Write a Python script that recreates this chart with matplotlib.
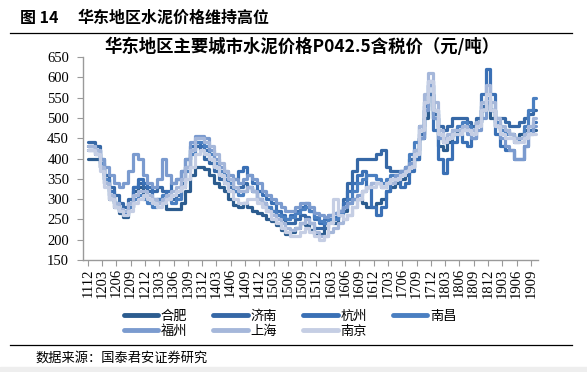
import matplotlib
matplotlib.use('Agg')
import matplotlib.pyplot as plt
import numpy as np
from matplotlib.lines import Line2D
from matplotlib.patches import Rectangle

CJK = ['Noto Sans CJK SC', 'DejaVu Sans']
SERIF = ['Liberation Serif', 'DejaVu Serif']

# monthly prices, 2011-12 .. 2019-10 (yuan/ton)
hefei = [400,
         400, 400, 380, 340, 300, 280, 265, 255, 280, 320, 330, 310,
         300, 290, 300, 290, 275, 275, 275, 290, 320, 360, 380, 380,
         375, 360, 340, 330, 320, 300, 285, 280, 290, 280, 270, 265,
         260, 250, 245, 235, 225, 215, 220, 230, 240, 235, 225, 215,
         215, 230, 250, 240, 260, 270, 290, 300, 300, 290, 280, 280,
         290, 300, 320, 330, 340, 350, 360, 380, 400, 450, 500, 560,
         500, 430, 420, 440, 460, 470, 480, 470, 470, 490, 520, 540,
         500, 480, 470, 470, 460, 450, 460, 470, 470, 470]
jinan = [440,
         440, 430, 400, 360, 330, 310, 290, 280, 300, 330, 340, 330,
         320, 320, 330, 320, 310, 300, 310, 340, 380, 420, 430, 420,
         400, 390, 370, 350, 340, 330, 320, 330, 340, 330, 320, 300,
         290, 280, 270, 260, 250, 240, 240, 250, 260, 255, 240, 230,
         230, 240, 250, 250, 270, 300, 340, 370, 400, 400, 400, 400,
         410, 420, 380, 370, 370, 370, 380, 400, 420, 460, 520, 560,
         510, 480, 470, 480, 500, 500, 500, 490, 480, 500, 530, 540,
         520, 500, 500, 490, 480, 480, 490, 500, 510, 520]
hangzhou = [420,
            420, 410, 380, 350, 320, 290, 270, 265, 290, 330, 350, 340,
            330, 300, 290, 300, 320, 340, 350, 370, 400, 430, 440, 430,
            420, 400, 380, 360, 350, 340, 350, 370, 378, 360, 340, 320,
            310, 300, 290, 270, 260, 250, 260, 270, 280, 290, 270, 250,
            240, 250, 260, 255, 270, 290, 320, 340, 360, 370, 330, 280,
            260, 280, 320, 340, 350, 330, 340, 370, 400, 450, 530, 590,
            470, 400, 365, 400, 440, 460, 440, 430, 450, 490, 560, 620,
            560, 460, 430, 420, 420, 400, 400, 430, 470, 490]
nanchang = [430,
            430, 420, 390, 350, 310, 290, 270, 260, 280, 300, 310, 300,
            290, 280, 300, 310, 300, 290, 300, 330, 370, 410, 440, 440,
            430, 410, 390, 370, 360, 340, 320, 310, 320, 330, 320, 300,
            290, 280, 270, 260, 255, 250, 255, 265, 275, 280, 270, 255,
            245, 240, 250, 250, 265, 280, 300, 320, 340, 350, 360, 360,
            350, 340, 350, 360, 360, 370, 380, 410, 440, 480, 540, 580,
            520, 460, 440, 450, 470, 480, 490, 480, 470, 490, 520, 550,
            520, 490, 470, 460, 460, 440, 450, 480, 520, 550]
fuzhou = [430,
          430, 420, 400, 380, 360, 340, 330, 340, 370, 410, 400, 360,
          340, 330, 350, 400, 360, 340, 350, 370, 400, 440, 455, 455,
          450, 420, 400, 380, 370, 360, 350, 340, 350, 360, 350, 340,
          320, 310, 300, 290, 280, 270, 270, 280, 290, 290, 280, 265,
          260, 255, 260, 265, 270, 280, 290, 300, 310, 320, 330, 340,
          340, 330, 340, 350, 360, 370, 380, 390, 410, 450, 520, 580,
          500, 450, 440, 450, 460, 460, 470, 460, 450, 470, 500, 540,
          520, 480, 450, 430, 420, 400, 400, 430, 460, 480]
shanghai = [430,
            430, 420, 380, 340, 310, 290, 275, 270, 290, 310, 320, 320,
            310, 300, 290, 300, 310, 320, 330, 350, 380, 420, 450, 450,
            440, 430, 410, 390, 370, 350, 330, 320, 320, 330, 320, 300,
            290, 270, 260, 250, 240, 230, 225, 230, 240, 250, 240, 220,
            210, 210, 220, 230, 240, 250, 260, 280, 300, 320, 330, 340,
            340, 330, 340, 340, 350, 360, 370, 380, 420, 480, 560, 610,
            540, 470, 450, 460, 470, 470, 480, 470, 470, 490, 540, 580,
            540, 500, 480, 470, 460, 450, 450, 460, 480, 500]
nanjing = [420,
           420, 410, 370, 330, 300, 280, 270, 260, 270, 290, 300, 310,
           300, 290, 280, 290, 300, 310, 320, 330, 350, 380, 410, 420,
           410, 400, 380, 360, 340, 320, 300, 290, 290, 300, 300, 290,
           280, 270, 250, 240, 230, 220, 210, 210, 220, 230, 220, 210,
           200, 210, 240, 300, 260, 250, 260, 280, 300, 320, 330, 330,
           340, 330, 340, 350, 350, 360, 370, 380, 410, 470, 540, 590,
           520, 460, 440, 450, 460, 460, 470, 470, 460, 480, 520, 560,
           520, 480, 460, 450, 450, 440, 440, 450, 460, 460]

city_names = ['合肥', '济南', '杭州', '南昌', '福州', '上海', '南京']
city_series = [hefei, jinan, hangzhou, nanchang, fuzhou, shanghai, nanjing]
city_colors = ['#2C5C8F', '#3668A6', '#3A70B5', '#4A7FC1', '#7B9BCF', '#A5B7DA', '#C5CEE4']

tick_labels = ['1112', '1203', '1206', '1209', '1212', '1303', '1306', '1309', '1312',
               '1403', '1406', '1409', '1412', '1503', '1506', '1509', '1512',
               '1603', '1606', '1609', '1612', '1703', '1706', '1709', '1712',
               '1803', '1806', '1809', '1812', '1903', '1906', '1909']

W, H = 587, 372
fig = plt.figure(figsize=(W / 100, H / 100), dpi=100)
ax = fig.add_axes([83 / W, 1 - 260 / H, (538 - 83) / W, (260 - 57) / H])

handles = []
for name, vals, c in zip(city_names, city_series, city_colors):
    xs = np.arange(len(vals))
    ln, = ax.plot(xs, vals, color=c, lw=2.3, drawstyle='steps-mid',
                  solid_joinstyle='round', solid_capstyle='round', label=name)
    handles.append(ln)

ax.set_xlim(-1, 94.5)
ax.set_ylim(150, 650)
ax.set_yticks(np.arange(150, 651, 50))
ax.set_xticks(np.arange(0, 3 * len(tick_labels), 3))
ax.set_xticklabels(tick_labels, rotation=90, family=SERIF, fontsize=10.5)
for lab in ax.get_yticklabels():
    lab.set_family(SERIF)
    lab.set_fontsize(10.5)
for s in ['top', 'right']:
    ax.spines[s].set_visible(False)
for s in ['left', 'bottom']:
    ax.spines[s].set_color('#9A9A9A')
    ax.spines[s].set_linewidth(1.0)
ax.tick_params(axis='both', direction='out', length=4, color='#9A9A9A', labelcolor='black', pad=2)
ax.tick_params(axis='y', pad=6)

# titles
fig.text(20 / W, 1 - 18 / H, '图 14', family=CJK, fontsize=11.5, fontweight='bold', va='center', ha='left')
fig.text(78 / W, 1 - 18 / H, '华东地区水泥价格维持高位', family=CJK, fontsize=11.5, fontweight='bold', va='center', ha='left')
fig.add_artist(Line2D([10 / W, 572 / W], [1 - 33 / H] * 2, color='black', lw=0.9))
fig.text(302 / W, 1 - 47 / H, '华东地区主要城市水泥价格P042.5含税价（元/吨）', family=CJK,
         fontsize=12.5, fontweight='bold', va='center', ha='center')

# legend filled row by row (matplotlib fills columns first)
order = [0, 4, 1, 5, 2, 6, 3]
leg_handles = [Line2D([0], [0], color=city_colors[i], lw=3.5, solid_capstyle='round') for i in order]
leg_labels = [city_names[i] for i in order]
fig.legend(leg_handles, leg_labels, ncol=4, loc='center', bbox_to_anchor=(290 / W, 1 - 323.5 / H),
           frameon=False, handlelength=2.6, handletextpad=0.2, columnspacing=2.0,
           labelspacing=0.15, prop={'family': CJK, 'size': 9.5})

fig.add_artist(Line2D([10 / W, 572 / W], [1 - 345 / H] * 2, color='black', lw=0.9))
fig.text(35 / W, 1 - 358 / H, '数据来源：国泰君安证券研究', family=CJK, fontsize=9.5, va='center', ha='left')
fig.add_artist(Rectangle((0, 0), 1, 5 / H, transform=fig.transFigure, color='#EEEEEE', zorder=-1))

fig.savefig('out.png', dpi=100)
